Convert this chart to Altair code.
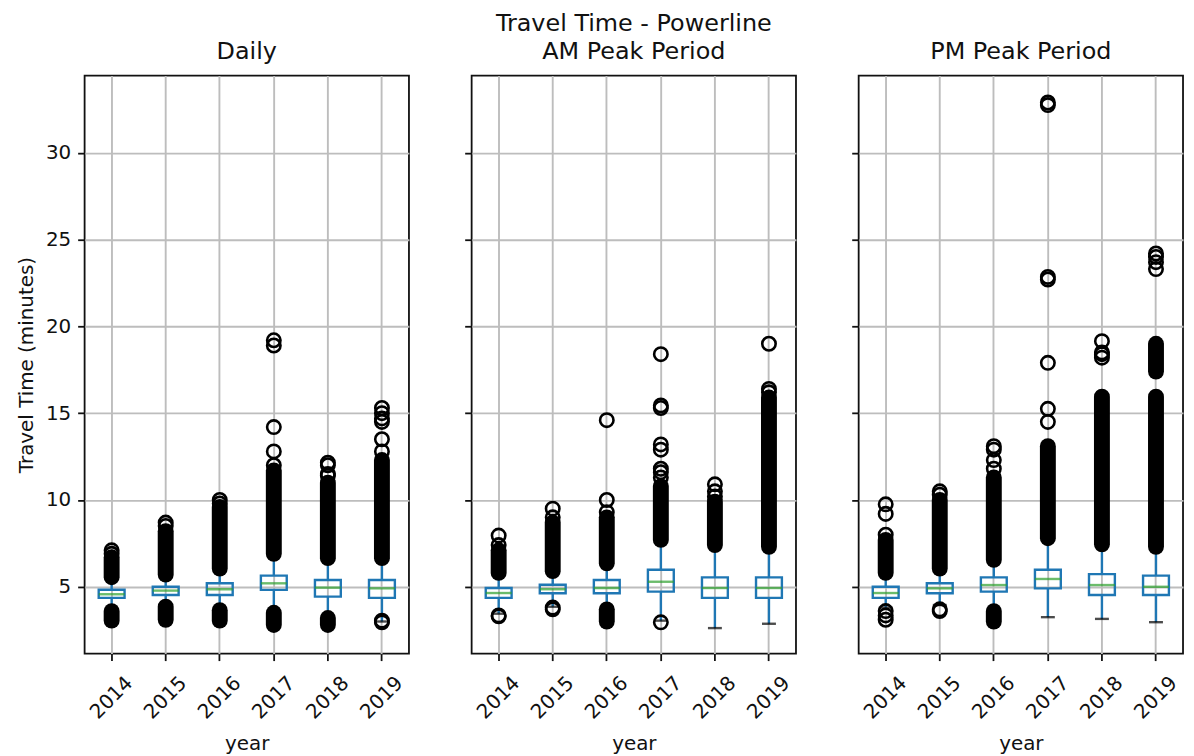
import altair as alt
import pandas as pd

YEARS = ["2014", "2015", "2016", "2017", "2018", "2019"]
PANELS = ["Daily", "AM Peak Period", "PM Peak Period"]
SUPTITLE = "Travel Time - Powerline"

# box statistics per panel, one value per year
Q1 = {
    "Daily": [4.36, 4.53, 4.53, 4.82, 4.43, 4.36],
    "AM Peak Period": [4.36, 4.63, 4.63, 4.72, 4.36, 4.36],
    "PM Peak Period": [4.36, 4.63, 4.72, 4.91, 4.53, 4.53],
}
MEDIAN = {
    "Daily": [4.57, 4.78, 4.86, 5.20, 4.95, 4.91],
    "AM Peak Period": [4.64, 4.86, 4.93, 5.29, 4.93, 4.93],
    "PM Peak Period": [4.64, 4.91, 5.10, 5.45, 5.10, 5.00],
}
Q3 = {
    "Daily": [4.83, 5.00, 5.20, 5.64, 5.39, 5.39],
    "AM Peak Period": [4.93, 5.12, 5.39, 5.98, 5.54, 5.54],
    "PM Peak Period": [5.00, 5.20, 5.54, 5.98, 5.73, 5.64],
}
WHISK_LO = {
    "Daily": [3.65, 3.90, 3.70, 3.55, 3.30, 3.00],
    "AM Peak Period": [3.45, 3.85, 3.75, 3.05, 2.62, 2.87],
    "PM Peak Period": [3.80, 3.95, 3.65, 3.25, 3.15, 2.96],
}
WHISK_HI = {
    "Daily": [5.50, 5.65, 6.00, 6.85, 6.60, 6.60],
    "AM Peak Period": [5.75, 5.85, 6.30, 7.60, 7.35, 7.25],
    "PM Peak Period": [5.75, 6.00, 6.50, 7.70, 7.35, 7.25],
}

# ranges where outlier circles overlap into a solid column
DENSE = [
    ("Daily", "2014", 5.55, 6.70), ("Daily", "2014", 3.05, 3.60),
    ("Daily", "2015", 5.70, 8.20), ("Daily", "2015", 3.10, 3.85),
    ("Daily", "2016", 6.05, 9.60), ("Daily", "2016", 3.05, 3.65),
    ("Daily", "2017", 6.90, 11.70), ("Daily", "2017", 2.80, 3.50),
    ("Daily", "2018", 6.65, 11.00), ("Daily", "2018", 2.80, 3.20),
    ("Daily", "2019", 6.65, 12.30),
    ("AM Peak Period", "2014", 5.80, 7.10),
    ("AM Peak Period", "2015", 5.90, 8.70),
    ("AM Peak Period", "2016", 6.35, 9.00), ("AM Peak Period", "2016", 3.00, 3.70),
    ("AM Peak Period", "2017", 7.70, 10.80),
    ("AM Peak Period", "2018", 7.40, 9.90),
    ("AM Peak Period", "2019", 7.30, 15.90),
    ("PM Peak Period", "2014", 5.80, 7.70),
    ("PM Peak Period", "2015", 6.05, 10.00),
    ("PM Peak Period", "2016", 6.55, 11.30), ("PM Peak Period", "2016", 3.00, 3.60),
    ("PM Peak Period", "2017", 7.80, 13.10),
    ("PM Peak Period", "2018", 7.45, 15.95),
    ("PM Peak Period", "2019", 7.30, 15.95), ("PM Peak Period", "2019", 17.40, 19.00),
]

# individual outlier circles
FLIERS = [
    ("Daily", "2014", 6.9), ("Daily", "2014", 7.1),
    ("Daily", "2015", 8.5), ("Daily", "2015", 8.7),
    ("Daily", "2016", 9.8), ("Daily", "2016", 10.0),
    ("Daily", "2017", 12.0), ("Daily", "2017", 12.8), ("Daily", "2017", 14.2),
    ("Daily", "2017", 18.9), ("Daily", "2017", 19.2),
    ("Daily", "2018", 11.4), ("Daily", "2018", 11.5), ("Daily", "2018", 12.0), ("Daily", "2018", 12.15),
    ("Daily", "2019", 12.8), ("Daily", "2019", 13.5), ("Daily", "2019", 14.5),
    ("Daily", "2019", 14.7), ("Daily", "2019", 15.0), ("Daily", "2019", 15.3),
    ("Daily", "2019", 2.95), ("Daily", "2019", 3.05),
    ("AM Peak Period", "2014", 7.4), ("AM Peak Period", "2014", 7.95),
    ("AM Peak Period", "2014", 3.3), ("AM Peak Period", "2014", 3.35),
    ("AM Peak Period", "2015", 9.0), ("AM Peak Period", "2015", 9.5),
    ("AM Peak Period", "2015", 3.7), ("AM Peak Period", "2015", 3.8),
    ("AM Peak Period", "2016", 9.3), ("AM Peak Period", "2016", 10.0), ("AM Peak Period", "2016", 14.6),
    ("AM Peak Period", "2017", 11.3), ("AM Peak Period", "2017", 11.6), ("AM Peak Period", "2017", 11.8),
    ("AM Peak Period", "2017", 12.9), ("AM Peak Period", "2017", 13.2), ("AM Peak Period", "2017", 15.3),
    ("AM Peak Period", "2017", 15.45), ("AM Peak Period", "2017", 18.4), ("AM Peak Period", "2017", 2.95),
    ("AM Peak Period", "2018", 10.2), ("AM Peak Period", "2018", 10.5), ("AM Peak Period", "2018", 10.9),
    ("AM Peak Period", "2019", 16.2), ("AM Peak Period", "2019", 16.4), ("AM Peak Period", "2019", 19.0),
    ("PM Peak Period", "2014", 8.0), ("PM Peak Period", "2014", 9.2), ("PM Peak Period", "2014", 9.75),
    ("PM Peak Period", "2014", 3.1), ("PM Peak Period", "2014", 3.35), ("PM Peak Period", "2014", 3.6),
    ("PM Peak Period", "2015", 10.3), ("PM Peak Period", "2015", 10.5),
    ("PM Peak Period", "2015", 3.6), ("PM Peak Period", "2015", 3.7),
    ("PM Peak Period", "2016", 11.8), ("PM Peak Period", "2016", 12.3),
    ("PM Peak Period", "2016", 12.9), ("PM Peak Period", "2016", 13.1),
    ("PM Peak Period", "2017", 14.5), ("PM Peak Period", "2017", 15.25), ("PM Peak Period", "2017", 17.9),
    ("PM Peak Period", "2017", 22.7), ("PM Peak Period", "2017", 22.85),
    ("PM Peak Period", "2017", 32.75), ("PM Peak Period", "2017", 32.9),
    ("PM Peak Period", "2018", 18.2), ("PM Peak Period", "2018", 18.4),
    ("PM Peak Period", "2018", 18.5), ("PM Peak Period", "2018", 19.15),
    ("PM Peak Period", "2019", 23.3), ("PM Peak Period", "2019", 23.7),
    ("PM Peak Period", "2019", 24.0), ("PM Peak Period", "2019", 24.2),
]

Y_TICKS = [5, 10, 15, 20, 25, 30]
Y_DOMAIN = [1.15, 34.45]

BLUE = "#1f77b4"
GREEN = "#2ca02c"
INK = "#111111"
FONT = "DejaVu Sans"
W, H = 326, 581
LW = 2.4

box_rows = []
for p in PANELS:
    for i, yr in enumerate(YEARS):
        box_rows.append(dict(panel=p, year=yr, q1=Q1[p][i], med=MEDIAN[p][i], q3=Q3[p][i],
                             wlo=WHISK_LO[p][i], whi=WHISK_HI[p][i]))
box_df = pd.DataFrame(box_rows)
dense_df = pd.DataFrame(DENSE, columns=["panel", "year", "lo", "hi"])
flier_df = pd.DataFrame(FLIERS, columns=["panel", "year", "value"])


def make_panel(name, first, title):
    xaxis = alt.Axis(title="year", labelAngle=315, labelAlign="center", labelBaseline="middle",
                     labelPadding=37, tickSize=7, grid=True, titlePadding=11)
    xenc = alt.X("year:O", scale=alt.Scale(domain=YEARS, paddingInner=0, paddingOuter=0), axis=xaxis)
    if first:
        yaxis = alt.Axis(title="Travel Time (minutes)", values=Y_TICKS, tickSize=7, grid=True,
                         labelPadding=7, titlePadding=9)
    else:
        yaxis = alt.Axis(title=None, values=Y_TICKS, tickSize=7, grid=True, labels=False)
    ysc = alt.Scale(domain=Y_DOMAIN, nice=False, zero=False)

    def Y(field):
        return alt.Y(f"{field}:Q", scale=ysc, axis=yaxis)

    b = box_df[box_df.panel == name]
    d = dense_df[dense_df.panel == name]
    f = flier_df[flier_df.panel == name]

    whisk_hi = alt.Chart(b).mark_rule(color=BLUE, strokeWidth=LW).encode(x=xenc, y=Y("q3"), y2="whi:Q")
    whisk_lo = alt.Chart(b).mark_rule(color=BLUE, strokeWidth=LW).encode(x=xenc, y=Y("wlo"), y2="q1:Q")
    cap_hi = alt.Chart(b).mark_tick(color="black", size=14, thickness=LW).encode(x=xenc, y=Y("whi"))
    cap_lo = alt.Chart(b).mark_tick(color="black", size=14, thickness=LW).encode(x=xenc, y=Y("wlo"))
    box = alt.Chart(b).mark_bar(fillOpacity=0, stroke=BLUE, strokeWidth=LW, size=26).encode(
        x=xenc, y=Y("q1"), y2="q3:Q")
    med = alt.Chart(b).mark_tick(color=GREEN, size=26, thickness=LW).encode(x=xenc, y=Y("med"))
    dense = alt.Chart(d).mark_rule(color="black", strokeWidth=16, strokeCap="round").encode(
        x=xenc, y=Y("lo"), y2="hi:Q")
    fl = alt.Chart(f).mark_point(shape="circle", filled=False, color="black", size=182,
                                 strokeWidth=2.6, opacity=1).encode(x=xenc, y=Y("value"))

    return alt.layer(whisk_hi, whisk_lo, cap_hi, cap_lo, box, med, dense, fl).properties(
        width=W, height=H,
        title=alt.TitleParams(text=title, fontSize=24, font=FONT, fontWeight="normal",
                              color=INK, lineHeight=28, offset=12, anchor="middle"),
    )


chart = alt.hconcat(
    make_panel("Daily", True, "Daily"),
    make_panel("AM Peak Period", False, [SUPTITLE, "AM Peak Period"]),
    make_panel("PM Peak Period", False, "PM Peak Period"),
    spacing=53,
).properties(
    padding={"left": 7, "top": 1, "right": 2, "bottom": 0},
).configure_view(
    stroke=INK, strokeWidth=1.8,
).configure_axis(
    labelFont=FONT, titleFont=FONT, labelFontSize=20, titleFontSize=20,
    labelColor=INK, titleColor=INK, titleFontWeight="normal",
    tickColor=INK, tickWidth=1.8, domain=False,
    gridColor="#bdbdbd", gridWidth=1.9,
)

chart.save("out.html", embed_options={"renderer": "svg", "actions": False})
